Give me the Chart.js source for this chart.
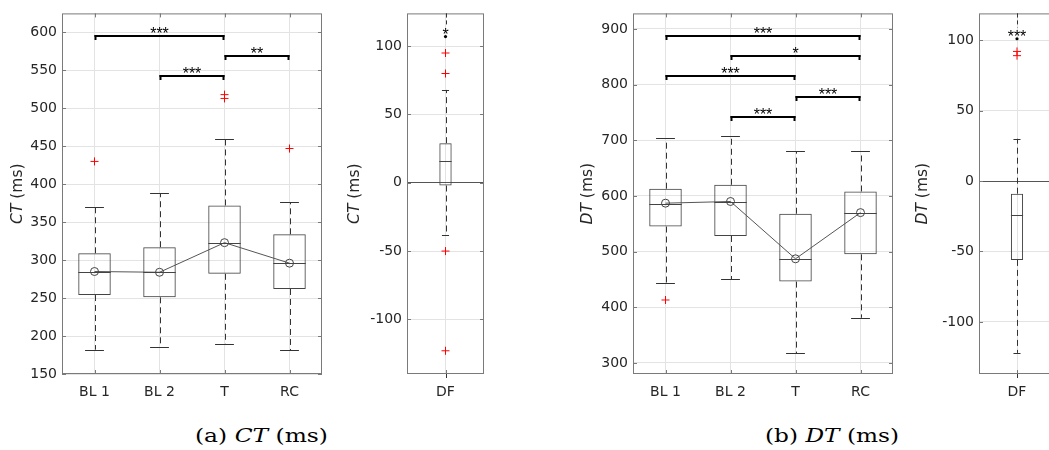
<!DOCTYPE html>
<html>
<head>
<meta charset="utf-8">
<script src="https://cdn.jsdelivr.net/npm/chart.js@4.4.0/dist/chart.umd.min.js"></script>
<style>
  html, body { margin: 0; padding: 0; background: #fff; overflow: hidden; }
  #wrap { position: relative; width: 1049px; height: 450px; overflow: hidden; }
  canvas { position: absolute; top: 0; }
  .caption { position: absolute; top: 426px; font-family: 'DejaVu Serif', serif; font-size: 19px; line-height: 19px; color: #000; white-space: nowrap; transform-origin: 0 0; }
</style>
</head>
<body>
<div id="wrap">
  <canvas id="ctMain" width="330" height="410" style="left:0"></canvas>
  <canvas id="ctDf" width="160" height="410" style="left:329px"></canvas>
  <canvas id="dtMain" width="340" height="410" style="left:560px"></canvas>
  <canvas id="dtDf" width="160" height="410" style="left:900px"></canvas>
  <div class="caption" style="left:195px" data-w="133">(a) <i>CT</i> (ms)</div>
  <div class="caption" style="left:765px" data-w="134">(b) <i>DT</i> (ms)</div>
</div>
<script>
// Colors
const textColor = '#262626';
const gridColor = '#e3e3e3';
const frameColor = '#7a7a7a';
const boxColor = '#444444';
const outlierColor = '#ff0000';

const groups = ['BL 1', 'BL 2', 'T', 'RC'];
const dfGroup = ['DF'];

// CT (ms) per condition
const ctLow = [182, 186, 189, 181];
const ctQ1 = [254, 251, 282, 262];
const ctMedian = [285, 284, 323, 296];
const ctQ3 = [309, 317, 372, 334];
const ctHigh = [370, 388, 460, 376];
const ctMean = [285, 284, 323, 296];
const ctOutGroup = [0, 2, 2, 3];
const ctOutValue = [430, 513, 518, 447];
const ctRange = [150, 625];
// brackets: [from, to, height, stars]
const ctSig = [[0, 2, 595, '***'], [1, 2, 543, '***'], [2, 3, 569, '**']];

// CT difference
const ctDfLow = [-38];
const ctDfQ1 = [-2];
const ctDfMedian = [16];
const ctDfQ3 = [29];
const ctDfHigh = [68];
const ctDfOutValue = [95, 80, -50, -123];
const ctDfStar = ['*', 107];
const ctDfRange = [-140, 124];

// DT (ms) per condition
const dtLow = [444, 450, 317, 381];
const dtQ1 = [545, 528, 446, 495];
const dtMedian = [586, 589, 486, 570];
const dtQ3 = [613, 620, 568, 608];
const dtHigh = [704, 707, 680, 680];
const dtMean = [587, 590, 487, 570];
const dtOutGroup = [0];
const dtOutValue = [413];
const dtRange = [280, 928];
const dtSig = [[0, 3, 887, '***'], [1, 3, 851, '*'], [0, 2, 816, '***'], [2, 3, 778, '***'], [1, 2, 742, '***']];

// DT difference
const dtDfLow = [-122];
const dtDfQ1 = [-56];
const dtDfMedian = [-24];
const dtDfQ3 = [-9];
const dtDfHigh = [30];
const dtDfOutValue = [89, 92];
const dtDfStar = ['***', 101];
const dtDfRange = [-137, 119];

const tickFont = { family: "'DejaVu Sans', sans-serif", size: 14 };
const starFont = "16px 'Liberation Sans', Arial, sans-serif";

function line(ctx, x1, y1, x2, y2) {
  ctx.beginPath();
  ctx.moveTo(x1, y1);
  ctx.lineTo(x2, y2);
  ctx.stroke();
}

// whiskers, medians, frame, brackets, axis title
function boxParts(cfg) {
  return {
    id: 'boxParts',
    beforeDatasetsDraw(chart) {
      const { ctx, scales: { x, y } } = chart;
      ctx.save();
      ctx.strokeStyle = '#333';
      ctx.lineWidth = 1;
      ctx.setLineDash([6, 4]);
      cfg.low.forEach((v, i) => {
        const px = Math.round(x.getPixelForValue(i)) + 0.5;
        line(ctx, px, y.getPixelForValue(cfg.q3[i]), px, y.getPixelForValue(cfg.high[i]));
        line(ctx, px, y.getPixelForValue(cfg.q1[i]), px, y.getPixelForValue(v));
      });
      ctx.restore();
    },
    afterDatasetsDraw(chart) {
      const { ctx, chartArea: a, scales: { x, y } } = chart;
      const bw = chart.getDatasetMeta(0).data[0].width;
      ctx.save();
      ctx.lineWidth = 1;
      ctx.strokeStyle = '#333';
      cfg.low.forEach((v, i) => {
        const px = x.getPixelForValue(i);
        const cw = bw * 0.29;
        [v, cfg.high[i]].forEach(w => {
          const py = Math.round(y.getPixelForValue(w)) + 0.5;
          line(ctx, px - cw, py, px + cw, py);
        });
        ctx.strokeStyle = boxColor;
        const my = Math.round(y.getPixelForValue(cfg.median[i])) + 0.5;
        line(ctx, px - bw / 2, my, px + bw / 2, my);
        ctx.strokeStyle = '#333';
      });

      // frame with inner ticks
      ctx.strokeStyle = frameColor;
      ctx.strokeRect(a.left + 0.5, a.top + 0.5, a.width - 1, a.height - 1);
      y.ticks.forEach(t => {
        const py = Math.round(y.getPixelForValue(t.value)) + 0.5;
        line(ctx, a.left, py, a.left + 4, py);
        line(ctx, a.right - 4, py, a.right, py);
      });
      x.ticks.forEach((t, i) => {
        const px = Math.round(x.getPixelForValue(i)) + 0.5;
        line(ctx, px, a.bottom, px, a.bottom - 4);
        line(ctx, px, a.top, px, a.top + 4);
      });

      // significance brackets
      ctx.font = starFont;
      ctx.textAlign = 'center';
      ctx.textBaseline = 'alphabetic';
      ctx.fillStyle = '#000';
      ctx.strokeStyle = '#000';
      (cfg.sig || []).forEach(([from, to, h, label]) => {
        const x1 = x.getPixelForValue(from), x2 = x.getPixelForValue(to);
        const py = Math.round(y.getPixelForValue(h));
        ctx.lineWidth = 2;
        line(ctx, x1, py, x2, py);
        line(ctx, x1 + 1, py - 1, x1 + 1, py + 4);
        line(ctx, x2 - 1, py - 1, x2 - 1, py + 4);
        const m = ctx.measureText(label);
        ctx.fillText(label, (x1 + x2) / 2, py - 3 - m.actualBoundingBoxDescent);
      });

      // star over the difference box
      if (cfg.star) {
        const px = x.getPixelForValue(0);
        const dy = y.getPixelForValue(cfg.star[1]);
        ctx.beginPath();
        ctx.arc(px, dy, 1.6, 0, Math.PI * 2);
        ctx.fill();
        const m = ctx.measureText(cfg.star[0]);
        const base = dy - 3 - m.actualBoundingBoxDescent;
        ctx.fillText(cfg.star[0], px, base);
        ctx.lineWidth = 1;
        ctx.strokeStyle = '#333';
        ctx.setLineDash([4, 3]);
        const gx = Math.round(px) + 0.5;
        line(ctx, gx, a.top, gx, base - m.actualBoundingBoxAscent - 2);
        line(ctx, gx, a.bottom, gx, a.bottom + 6);
        ctx.setLineDash([]);
      }

      // y axis title, italic symbol + unit
      ctx.translate(a.left + cfg.titleDx, (a.top + a.bottom) / 2);
      ctx.rotate(-Math.PI / 2);
      ctx.fillStyle = textColor;
      ctx.textAlign = 'left';
      ctx.textBaseline = 'middle';
      ctx.font = "italic 15.5px 'DejaVu Sans', sans-serif";
      const w1 = ctx.measureText(cfg.title[0]).width;
      ctx.font = "15.5px 'DejaVu Sans', sans-serif";
      const w2 = ctx.measureText(cfg.title[1]).width;
      const sx = -(w1 + w2) / 2;
      ctx.font = "italic 15.5px 'DejaVu Sans', sans-serif";
      ctx.fillText(cfg.title[0], sx, 0);
      ctx.font = "15.5px 'DejaVu Sans', sans-serif";
      ctx.fillText(cfg.title[1], sx + w1, 0);
      ctx.restore();
    }
  };
}

function boxChart(id, cfg) {
  const outPoints = cfg.outValue.map((v, i) => ({ x: cfg.labels[cfg.outGroup[i]], y: v }));
  const datasets = [
    {
      type: 'bar',
      data: cfg.q1.map((v, i) => [v, cfg.q3[i]]),
      backgroundColor: 'rgba(0,0,0,0)',
      borderColor: boxColor,
      borderWidth: 1,
      borderSkipped: false,
      barPercentage: cfg.barPct,
      categoryPercentage: 1,
      order: 3
    },
    {
      type: 'line',
      data: outPoints,
      showLine: false,
      pointStyle: 'cross',
      pointRadius: 4,
      pointBorderColor: outlierColor,
      pointBorderWidth: 1,
      order: 1
    }
  ];
  if (cfg.mean) {
    datasets.push({
      type: 'line',
      data: cfg.mean,
      borderColor: '#555',
      borderWidth: 1,
      pointStyle: 'circle',
      pointRadius: 4,
      pointBorderColor: boxColor,
      pointBackgroundColor: 'rgba(0,0,0,0)',
      pointBorderWidth: 1,
      order: 2
    });
  }
  return new Chart(document.getElementById(id), {
    type: 'bar',
    data: { labels: cfg.labels, datasets },
    options: {
      responsive: false,
      animation: false,
      layout: { padding: { top: 9, right: cfg.padRight, left: 0, bottom: 0 } },
      plugins: { legend: { display: false }, tooltip: { enabled: false } },
      scales: {
        x: {
          offset: true,
          grid: { offset: false, color: gridColor, drawTicks: false },
          border: { display: false },
          ticks: { color: textColor, font: tickFont, padding: 10 },
          afterFit: s => { s.height = 36; }
        },
        y: {
          min: cfg.range[0],
          max: cfg.range[1],
          grid: {
            drawTicks: false,
            color: c => (cfg.zeroLine && c.tick && c.tick.value === 0) ? '#555' : gridColor
          },
          border: { display: false },
          ticks: { stepSize: cfg.step, includeBounds: false, color: textColor, font: tickFont, padding: 5 },
          afterFit: s => { s.width = cfg.yWidth; }
        }
      }
    },
    plugins: [boxParts(cfg)]
  });
}

boxChart('ctMain', {
  labels: groups, low: ctLow, q1: ctQ1, median: ctMedian, q3: ctQ3, high: ctHigh, mean: ctMean,
  outGroup: ctOutGroup, outValue: ctOutValue, sig: ctSig, range: ctRange, step: 50,
  barPct: 0.5, yWidth: 62, padRight: 8, titleDx: -44, title: ['CT', ' (ms)']
});

boxChart('ctDf', {
  labels: dfGroup, low: ctDfLow, q1: ctDfQ1, median: ctDfMedian, q3: ctDfQ3, high: ctDfHigh,
  outGroup: ctDfOutValue.map(() => 0), outValue: ctDfOutValue, star: ctDfStar, range: ctDfRange, step: 50,
  zeroLine: true, barPct: 0.16, yWidth: 78, padRight: 2, titleDx: -52, title: ['CT', ' (ms)']
});

boxChart('dtMain', {
  labels: groups, low: dtLow, q1: dtQ1, median: dtMedian, q3: dtQ3, high: dtHigh, mean: dtMean,
  outGroup: dtOutGroup, outValue: dtOutValue, sig: dtSig, range: dtRange, step: 100,
  barPct: 0.5, yWidth: 73, padRight: 7, titleDx: -45, title: ['DT', ' (ms)']
});

boxChart('dtDf', {
  labels: dfGroup, low: dtDfLow, q1: dtDfQ1, median: dtDfMedian, q3: dtDfQ3, high: dtDfHigh,
  outGroup: dtDfOutValue.map(() => 0), outValue: dtDfOutValue, star: dtDfStar, range: dtDfRange, step: 50,
  zeroLine: true, barPct: 0.16, yWidth: 79, padRight: 1, titleDx: -56, title: ['DT', ' (ms)']
});

// stretch captions to the measured width
document.querySelectorAll('.caption').forEach(el => {
  const w = el.getBoundingClientRect().width;
  el.style.transform = 'scaleX(' + (el.dataset.w / w) + ')';
});
</script>
</body>
</html>
